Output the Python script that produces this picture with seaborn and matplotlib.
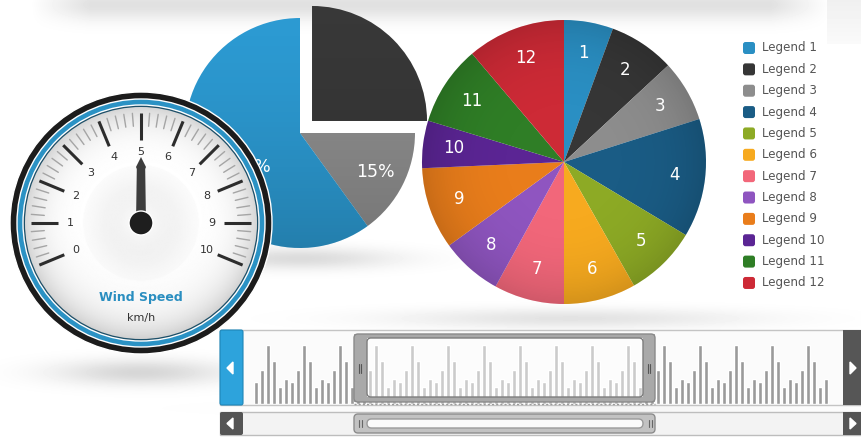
import numpy as np
import pandas as pd
import seaborn as sns
import matplotlib.pyplot as plt
from matplotlib.patches import Circle, Rectangle, FancyBboxPatch, Polygon

W, H = 861, 438

# gauge
gauge_ticks = [0, 1, 2, 3, 4, 5, 6, 7, 8, 9, 10]
gauge_value = 5
gauge_title = "Wind Speed"
gauge_unit = "km/h"

# exploded pie (clockwise from top)
share_values = [25, 15, 60]
share_labels = ["25%", "15%", "60%"]
share_colors = ["#383838", "#8e8e8e", "#2c9ad2"]

# 12 slice pie (clockwise from top)
slice_labels = ["1", "2", "3", "4", "5", "6", "7", "8", "9", "10", "11", "12"]
slice_values = [5.6, 7.5, 7.0, 13.5, 8.2, 8.2, 8.0, 7.0, 9.3, 5.4, 9.1, 11.2]
slice_colors = ["#2a8fc3", "#363636", "#8d8d8d", "#1a5c85", "#8daa25", "#f7aa1f",
                "#f2677a", "#8f55c0", "#e97d1b", "#5b2594", "#2f7e26", "#cd2a36"]
legend_labels = ["Legend 1", "Legend 2", "Legend 3", "Legend 4", "Legend 5", "Legend 6",
                 "Legend 7", "Legend 8", "Legend 9", "Legend 10", "Legend 11", "Legend 12"]

# overview bars in the scroller
bar_values = [22, 34, 59, 43, 17, 25, 22, 34, 59, 43, 17, 25,
              22, 34, 59, 43, 17, 25, 22, 34, 59, 43, 17, 25,
              22, 34, 59, 43, 17, 25, 22, 34, 59, 43, 17, 25,
              22, 34, 59, 43, 17, 25, 22, 34, 59, 43, 17, 25,
              22, 34, 59, 43, 17, 25, 22, 34, 59, 43, 17, 25,
              22, 34, 59, 43, 17, 25, 22, 34, 59, 43, 17, 25,
              22, 34, 59, 43, 17, 25, 22, 34, 59, 43, 17, 25,
              22, 34, 59, 43, 17, 25, 22, 34, 59, 43, 17, 25]


def Y(y):
    # image rows are counted from the top
    return H - y


def shade(ax, clip, extent, alpha, z, color=(0, 0, 0)):
    # translucent overlay clipped to a patch, gives the glossy look
    rgba = np.zeros(alpha.shape + (4,))
    rgba[..., 0], rgba[..., 1], rgba[..., 2] = color
    rgba[..., 3] = alpha
    im = ax.imshow(rgba, extent=extent, zorder=z, interpolation="bilinear")
    im.set_clip_path(clip)
    return im


sns.set_theme(style="white")
plt.rcParams['font.family'] = ['DejaVu Sans']

fig = plt.figure(figsize=(W / 100, H / 100), dpi=100)
ax = fig.add_axes([0, 0, 1, 1])
ax.set_facecolor("white")

# soft background shadows
xx, yy = np.meshgrid(np.arange(W), np.arange(H))
bg = np.ones((H, W))
band = np.clip((xx - 30) / 60, 0, 1) * np.clip((830 - xx) / 60, 0, 1)
bg -= 0.12 * band * np.exp(-((yy - 4) / 16.0) ** 2)
for (sx, sy, ex, ey, d) in [(140, 372, 85, 13, 0.16), (300, 258, 95, 11, 0.14),
                            (570, 318, 175, 10, 0.11), (560, 408, 260, 8, 0.04)]:
    bg -= d * np.exp(-((xx - sx) / ex) ** 2 - ((yy - sy) / ey) ** 2)
corner = (xx > 826) & (yy < 44)
bg[corner] = np.minimum(bg[corner], 0.94 + 0.04 * (yy[corner] / 44.0))
ax.imshow(bg, extent=(0, W, 0, H), cmap="gray", vmin=0, vmax=1, zorder=0,
          interpolation="bilinear")

# exploded pie
wedges1, _ = ax.pie(share_values, colors=share_colors, startangle=90, counterclock=False,
                    center=(300, Y(133)), radius=115, explode=[17, 0, 0],
                    wedgeprops=dict(linewidth=0, zorder=1))
gy_lin = np.linspace(0, 1, 200)[:, None] * np.ones((1, 200))
for w in wedges1:
    c = w.center
    shade(ax, w, (c[0] - 116, c[0] + 116, c[1] - 116, c[1] + 116),
          0.18 * gy_lin ** 1.5, 1.5)
w = wedges1[1]
mid = np.deg2rad((w.theta1 + w.theta2) / 2)
ax.text(w.center[0] + 0.74 * w.r * np.cos(mid), w.center[1] + 0.74 * w.r * np.sin(mid),
        share_labels[1], color="white", fontsize=12.5, ha="center", va="center", zorder=2)
ax.text(252, Y(167), share_labels[2], color="white", fontsize=12.5,
        ha="center", va="center", zorder=2)

# 12 slice pie
wedges2, _ = ax.pie(slice_values, colors=slice_colors, startangle=90, counterclock=False,
                    center=(564, Y(162)), radius=142,
                    wedgeprops=dict(linewidth=0, zorder=1))
rr = np.linspace(-1, 1, 300)
qx, qy = np.meshgrid(rr, rr)
qr = np.sqrt(qx ** 2 + qy ** 2)
pie_clip = Circle((564, Y(162)), 142, transform=ax.transData)
shade(ax, pie_clip, (564 - 142, 564 + 142, Y(162) - 142, Y(162) + 142),
      np.clip(0.14 * qr ** 4, 0, 0.14), 1.5)
for w, lab in zip(wedges2, slice_labels):
    mid = np.deg2rad((w.theta1 + w.theta2) / 2)
    ax.text(w.center[0] + 0.78 * w.r * np.cos(mid), w.center[1] + 0.78 * w.r * np.sin(mid),
            lab, color="white", fontsize=12, ha="center", va="center", zorder=2)

# legend
for i, (lab, col) in enumerate(zip(legend_labels, slice_colors)):
    ly = Y(48 + i * 21.36)
    ax.add_patch(FancyBboxPatch((743, ly - 6), 12, 12, boxstyle="round,pad=0,rounding_size=2.5",
                                facecolor=col, edgecolor="none", zorder=2))
    ax.text(762, ly, lab, fontsize=8.6, color="#555555", va="center", ha="left", zorder=2)

# gauge
cx, cy = 141, Y(223)
ax.add_patch(Circle((cx, cy), 131, facecolor="#1c1c1c", zorder=5))
ax.add_patch(Circle((cx, cy), 124, facecolor="#2b92c4", zorder=5))
ax.add_patch(Circle((cx, cy), 118, facecolor="#1d4f68", zorder=5))
face = 1 - 0.16 * qr ** 6 - 0.05 * np.exp(-((qr - 0.25) / 0.22) ** 2) * (qr < 0.5) \
    - 0.02 * np.clip(qy, 0, 1)
face = np.clip(face, 0, 1)
img = ax.imshow(face, extent=(cx - 116, cx + 116, cy - 116, cy + 116), cmap="gray",
                vmin=0, vmax=1, zorder=6, interpolation="bilinear")
img.set_clip_path(Circle((cx, cy), 116, transform=ax.transData))


def ang(v):
    return np.deg2rad(202.5 - 22.5 * v)


for v in gauge_ticks:
    a = ang(v)
    ax.plot([cx + 83 * np.cos(a), cx + 110 * np.cos(a)], [cy + 83 * np.sin(a), cy + 110 * np.sin(a)],
            color="#2d2d2d", lw=2.2, solid_capstyle="butt", zorder=7)
    ax.text(cx + 71 * np.cos(a), cy + 71 * np.sin(a), str(v), fontsize=8, color="#333333",
            ha="center", va="center", zorder=7)
    if v < gauge_ticks[-1]:
        for k in range(1, 5):
            a2 = ang(v + k * 0.2)
            ax.plot([cx + 97 * np.cos(a2), cx + 110 * np.cos(a2)],
                    [cy + 97 * np.sin(a2), cy + 110 * np.sin(a2)],
                    color="#a5a5a5", lw=1.0, zorder=7)

a = ang(gauge_value)
u = np.array([np.cos(a), np.sin(a)])
p = np.array([-np.sin(a), np.cos(a)])
needle = [(0, -5), (54, -4.2), (56, -5), (66, 0), (56, 5), (54, 4.2), (0, 5)]
pts = [(cx + s * u[0] + t * p[0], cy + s * u[1] + t * p[1]) for s, t in needle]
ax.add_patch(Polygon(pts, closed=True, facecolor="#3d3d3d", edgecolor="none", zorder=8))
ax.add_patch(Circle((cx, cy), 12, facecolor="#1e1e1e", zorder=9))
ax.text(cx, Y(298), gauge_title, fontsize=9, color="#2a8ec0", fontweight="bold",
        ha="center", va="center", zorder=7)
ax.text(cx, Y(318), gauge_unit, fontsize=8, color="#333333", ha="center", va="center", zorder=7)

# scroller panel
ax.add_patch(Rectangle((220, Y(405)), 641, 75, facecolor="#fbfbfb", edgecolor="#c4c4c4",
                       lw=1, zorder=2))
ax.add_patch(FancyBboxPatch((220, Y(405)), 23, 75, boxstyle="round,pad=0,rounding_size=2",
                            facecolor="#2da3dc", edgecolor="#1e86b8", lw=0.8, zorder=3))
ax.add_patch(Polygon([(227, Y(368)), (233, Y(362)), (233, Y(374))], facecolor="white", zorder=4))
ax.add_patch(Rectangle((843, Y(405)), 18, 75, facecolor="#565656", edgecolor="none", zorder=3))
ax.add_patch(Polygon([(856, Y(368)), (850, Y(362)), (850, Y(374))], facecolor="white", zorder=4))

# scrollbar
ax.add_patch(Rectangle((220, Y(435)), 641, 23, facecolor="#f3f3f3", edgecolor="#bdbdbd",
                       lw=1, zorder=2))
ax.add_patch(FancyBboxPatch((220, Y(435)), 23, 23, boxstyle="round,pad=0,rounding_size=2",
                            facecolor="#555555", edgecolor="none", zorder=3))
ax.add_patch(Polygon([(227, Y(423.5)), (233, Y(418)), (233, Y(429))], facecolor="white", zorder=4))
ax.add_patch(Rectangle((843, Y(435)), 18, 23, facecolor="#555555", edgecolor="none", zorder=3))
ax.add_patch(Polygon([(856, Y(423.5)), (850, Y(418)), (850, Y(429))], facecolor="white", zorder=4))
ax.add_patch(FancyBboxPatch((354, Y(433)), 301, 19, boxstyle="round,pad=0,rounding_size=4",
                            facecolor="#c2c2c2", edgecolor="#8c8c8c", lw=1, zorder=3))
ax.add_patch(FancyBboxPatch((367, Y(428)), 276, 9, boxstyle="round,pad=0,rounding_size=4.5",
                            facecolor="#fafafa", edgecolor="#9a9a9a", lw=1, zorder=4))
for gx0 in (359, 649):
    for d in (0, 2.5):
        ax.plot([gx0 + d, gx0 + d], [Y(427), Y(420)], color="#666666", lw=0.8, zorder=4)

ax.set_xlim(0, W)
ax.set_ylim(0, H)
ax.set_aspect("equal")
ax.axis("off")

# overview bars
axb = fig.add_axes([253 / W, Y(404.3) / H, 576 / W, 59.3 / H], zorder=2)
axb.patch.set_alpha(0)
bars = pd.DataFrame({"idx": range(len(bar_values)), "value": bar_values})
sns.barplot(data=bars, x="idx", y="value", color="#9a9a9a", saturation=1, width=0.67,
            ax=axb)
for i, patch in enumerate(axb.patches):
    px = 256 + 6 * i
    if 367 < px < 643:
        patch.set_facecolor("#bababa")
axb.set_xlim(-0.5, len(bar_values) - 0.5)
axb.set_ylim(0, 59.3)
axb.axis("off")

# selection window over the bars
axs = fig.add_axes([0, 0, 1, 1], zorder=3)
axs.patch.set_alpha(0)
frame_col = "#a9a9a9"
axs.add_patch(Rectangle((354, Y(402)), 13, 68, facecolor=frame_col, edgecolor="none"))
axs.add_patch(Rectangle((643, Y(402)), 12, 68, facecolor=frame_col, edgecolor="none"))
axs.add_patch(Rectangle((354, Y(338)), 301, 4, facecolor=frame_col, edgecolor="none"))
axs.add_patch(Rectangle((354, Y(402)), 301, 5, facecolor=frame_col, edgecolor="none"))
axs.add_patch(FancyBboxPatch((354, Y(402)), 301, 68, boxstyle="round,pad=0,rounding_size=4",
                             facecolor="none", edgecolor="#8a8a8a", lw=1))
axs.add_patch(FancyBboxPatch((367, Y(397)), 276, 59, boxstyle="round,pad=0,rounding_size=4",
                             facecolor="white", alpha=0.25, edgecolor="none"))
axs.add_patch(FancyBboxPatch((367, Y(397)), 276, 59, boxstyle="round,pad=0,rounding_size=4",
                             facecolor="none", edgecolor="#7d7d7d", lw=1))
axs.plot([354, 655], [Y(403.5), Y(403.5)], color="#9a9a9a", lw=1, ls=(0, (1.5, 1.5)))
for gx0 in (358.5, 647.5):
    for d in (0, 2.5):
        axs.plot([gx0 + d, gx0 + d], [Y(373), Y(364)], color="#555555", lw=0.8)
axs.set_xlim(0, W)
axs.set_ylim(0, H)
axs.axis("off")

fig.savefig("out.png", dpi=100)
